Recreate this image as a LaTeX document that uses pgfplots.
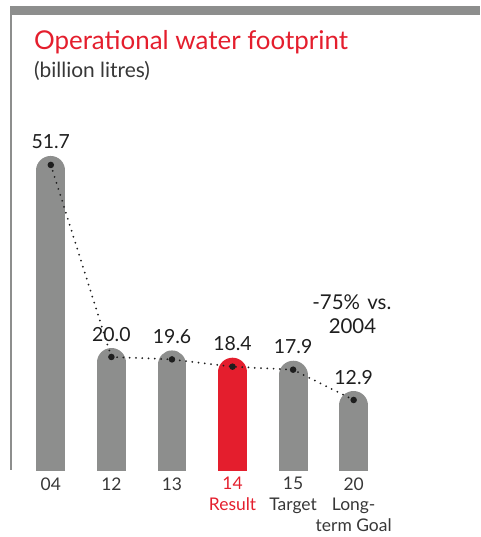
\documentclass[border=0pt]{standalone}
\usepackage{pgfplots}
\pgfplotsset{compat=1.18}
\usepackage{fontspec}
\setmainfont{Lato}
\definecolor{bargray}{RGB}{141,142,141}
\definecolor{ured}{RGB}{228,30,45}
\definecolor{txt}{RGB}{30,30,30}
\definecolor{ticktxt}{RGB}{55,55,55}
\begin{document}
\begin{tikzpicture}
\begin{axis}[
  scale only axis, width=471pt, height=461.5pt,
  xmin=-0.658, xmax=7.089, ymin=1.3, ymax=77.2,
  axis line style={draw=none},
  ytick=\empty,
  xtick={0,1,2,3,4,5},
  xticklabels={{04},{12},{13},{\color{ured}14\\\color{ured}Result},{15\\Target},{20\\Long-\\term Goal}},
  major tick length=0pt,
  xticklabel style={font=\fontsize{17.5}{21}\selectfont, text=ticktxt, align=center, anchor=north, inner sep=0pt, yshift=-7pt},
]
\addplot[ycomb, draw=bargray, line width=29pt, line cap=round, yshift=-5.5pt] coordinates {(0,51.7)(1,20.0)(2,19.6)(4,17.9)(5,12.9)};
\addplot[ycomb, draw=ured, line width=29pt, line cap=round, yshift=-5.5pt] coordinates {(3,18.4)};
\addplot[txt, line width=2pt, line cap=round, dash pattern=on 0pt off 6.3pt,
  mark=*, mark size=2.2pt, mark options={solid, fill=txt},
  nodes near coords={\pgfmathprintnumber[fixed,zerofill,precision=1,assume math mode=true]{\pgfplotspointmeta}},
  every node near coord/.append style={font=\fontsize{19.5}{22}\selectfont, text=txt, anchor=base, yshift=16pt, inner sep=0pt}]
  coordinates {(0,51.7)(1,20.0)(2,19.6)(3,18.4)(4,17.9)(5,12.9)};
\node[anchor=base, inner sep=0pt, font=\fontsize{20.5}{22}\selectfont, text=txt] at (axis cs:4.97,27.9) {-75\%\hspace{0.1em} vs.};
\node[anchor=base, inner sep=0pt, font=\fontsize{20.5}{22}\selectfont, text=txt] at (axis cs:4.98,23.8) {2004};
\end{axis}
\fill[bargray] (-1pt,457pt) rectangle (471pt,466pt);
\fill[bargray] (-1pt,0pt) rectangle (1.3pt,466pt);
\node[anchor=base west, inner sep=0pt, font=\fontsize{26}{28}\selectfont, text=ured] at (23pt,422pt) {Operational water footprint};
\node[anchor=base west, inner sep=0pt, font=\fontsize{21}{22}\selectfont, text=ticktxt] at (23pt,394pt) {(billion litres)};
\pgfresetboundingbox
\path[use as bounding box] (-11pt,-67pt) rectangle (471pt,472pt);
\end{tikzpicture}
\end{document}
